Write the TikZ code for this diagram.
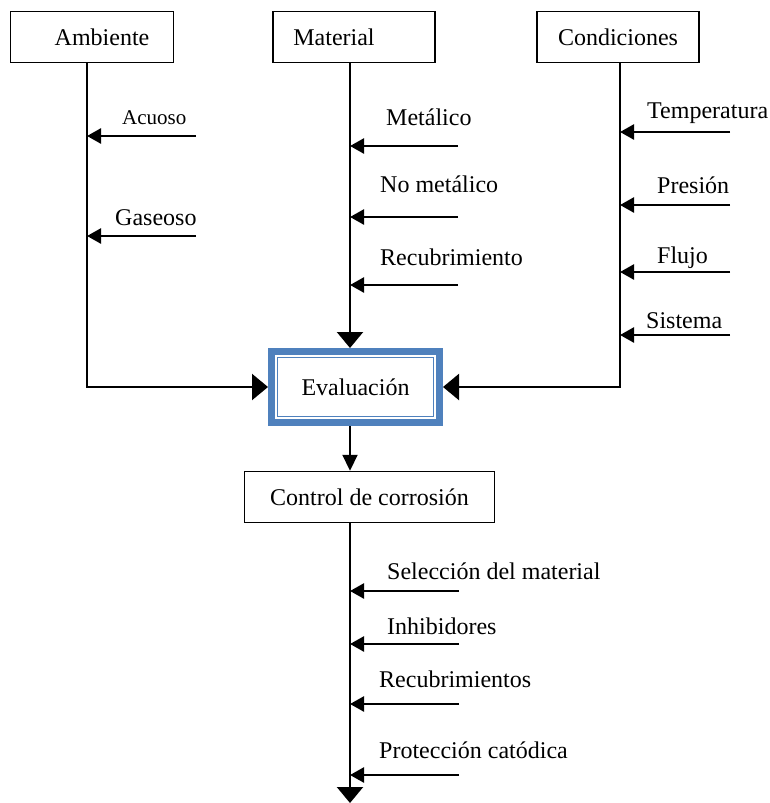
\documentclass[tikz,border=0pt]{standalone}
\usepackage{fontspec}
\setmainfont{Liberation Serif}
\usetikzlibrary{arrows.meta}
\definecolor{evblue}{HTML}{4F81BD}
\begin{document}
\begin{tikzpicture}[x=1pt,y=-1pt,
 box/.style={draw, line width=1.5pt, minimum height=51pt, inner sep=0pt, fill=white, font=\fontsize{24}{28}\selectfont},
 lbl/.style={anchor=base west, inner sep=0pt, font=\fontsize{24}{28}\selectfont},
 bigarr/.style={line width=2.2pt, -{Triangle[length=16pt,width=26pt]}},
 midarr/.style={line width=2.2pt, -{Triangle[length=16pt,width=15pt]}},
 small/.style={line width=2.5pt, -{Triangle[length=14pt,width=15pt]}}]
\useasboundingbox (0,0) rectangle (770,803);

% top boxes
\node[box, minimum width=163pt] (amb) at (92,37) {\hspace*{20pt}Ambiente};
\node[box, minimum width=162pt] (mat) at (354,37) {Material\hspace*{40pt}};
\node[box, minimum width=162pt] (cond) at (618,37) {Condiciones};

% evaluation box
\node[draw=evblue, line width=7pt, fill=white, minimum width=168pt, minimum height=71pt, inner sep=0pt,
      font=\fontsize{24}{28}\selectfont] (eval) at (355.5,387) {Evaluación};
\draw[evblue, line width=1.5pt] ([shift={(9.5pt,9.5pt)}]eval.south west) rectangle ([shift={(-9.5pt,-9.5pt)}]eval.north east);

% control box
\node[box, minimum width=250pt] (ctrl) at (369.5,497) {Control de corrosión};

% trunk x positions
\coordinate (ambX) at (87,0);
\coordinate (matX) at (350,0);
\coordinate (condX) at (620,0);
\coordinate (endpt) at (350,803);

% trunks
\draw[bigarr] (amb.south -| ambX) |- (eval.west);
\draw[bigarr] (mat.south -| matX) -- (eval.north -| matX);
\draw[bigarr] (cond.south -| condX) |- (eval.east);
\draw[midarr] (eval.south -| matX) -- (ctrl.north -| matX);
\draw[bigarr] (ctrl.south -| matX) -- (endpt);

% Ambiente inputs
\node[lbl, font=\fontsize{21}{24}\selectfont] (l1) at (122,124) {Acuoso};
\node[lbl] (l2) at (115,225) {Gaseoso};
\coordinate (a1) at (196,136);
\coordinate (a2) at (196,236);
\draw[small] (a1) -- (a1 -| ambX);
\draw[small] (a2) -- (a2 -| ambX);

% Material inputs
\node[lbl] (l3) at (386,125) {Metálico};
\node[lbl] (l4) at (380,192) {No metálico};
\node[lbl] (l5) at (380,265) {Recubrimiento};
\coordinate (m1) at (458,146);
\coordinate (m2) at (458,217);
\coordinate (m3) at (458,285);
\draw[small] (m1) -- (m1 -| matX);
\draw[small] (m2) -- (m2 -| matX);
\draw[small] (m3) -- (m3 -| matX);

% Condiciones inputs
\node[lbl] (l6) at (647,118) {Temperatura};
\node[lbl] (l7) at (657,193) {Presión};
\node[lbl] (l8) at (657,263) {Flujo};
\node[lbl] (l9) at (646,328) {Sistema};
\coordinate (c1) at (730,132);
\coordinate (c2) at (730,205);
\coordinate (c3) at (730,272);
\coordinate (c4) at (730,335);
\draw[small] (c1) -- (c1 -| condX);
\draw[small] (c2) -- (c2 -| condX);
\draw[small] (c3) -- (c3 -| condX);
\draw[small] (c4) -- (c4 -| condX);

% Control inputs
\node[lbl] (l10) at (387,579) {Selección del material};
\node[lbl] (l11) at (387,634) {Inhibidores};
\node[lbl] (l12) at (379,687) {Recubrimientos};
\node[lbl] (l13) at (379,758) {Protección catódica};
\coordinate (k1) at (459,591);
\coordinate (k2) at (459,644);
\coordinate (k3) at (459,704);
\coordinate (k4) at (459,775);
\draw[small] (k1) -- (k1 -| matX);
\draw[small] (k2) -- (k2 -| matX);
\draw[small] (k3) -- (k3 -| matX);
\draw[small] (k4) -- (k4 -| matX);
\end{tikzpicture}
\end{document}
